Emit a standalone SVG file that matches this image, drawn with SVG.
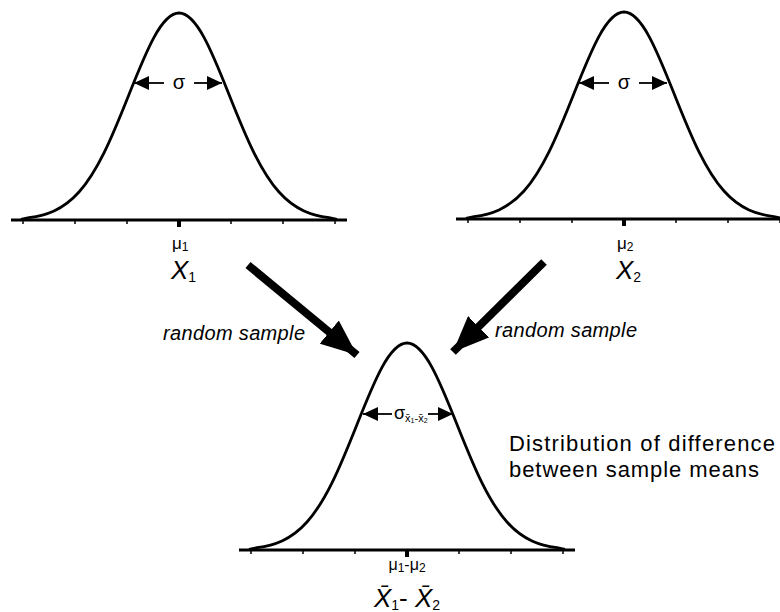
<svg xmlns="http://www.w3.org/2000/svg" xmlns:xlink="http://www.w3.org/1999/xlink" width="780" height="612" viewBox="0 0 780 612">
<style>
.curve{fill:none;stroke:#000;stroke-width:2.8}
.axis{stroke:#000;stroke-width:3}
.tick{stroke:#000;stroke-width:1.5}
.mtick{fill:#000}
.sig{stroke:#000;stroke-width:1.8}
.big{stroke:#000;stroke-width:8}
text{font-family:"Liberation Sans",Arial,sans-serif;fill:#000}
.it{font-style:italic}
</style>
<defs>
<path id="gauss" d="M -158,-0.6 L -150,-2.3 C -141.667,-3.449 -133.333,-5.313 -125,-9.1 C -116.667,-12.887 -108.333,-18.661 -100,-28 C -91.667,-37.339 -83.333,-50.395 -75,-67.2 C -66.667,-84.005 -58.333,-104.673 -50,-125.6 C -41.667,-146.527 -33.333,-167.475 -25,-182.7 C -16.667,-197.925 -8.333,-207 0,-207 C 8.333,-207 16.667,-197.925 25,-182.7 C 33.333,-167.475 41.667,-146.527 50,-125.6 C 58.333,-104.673 66.667,-84.005 75,-67.2 C 83.333,-50.395 91.667,-37.339 100,-28 C 108.333,-18.661 116.667,-12.887 125,-9.1 C 133.333,-5.313 141.667,-3.449 150,-2.3 L 158,-0.6"/>
<g id="axisgrp">
<line class="axis" x1="-168" y1="0" x2="168" y2="0"/>
<line class="tick" x1="-156" y1="0" x2="-156" y2="4"/>
<line class="tick" x1="-104" y1="0" x2="-104" y2="4"/>
<line class="tick" x1="-52" y1="0" x2="-52" y2="4"/>
<line class="tick" x1="52" y1="0" x2="52" y2="4"/>
<line class="tick" x1="104" y1="0" x2="104" y2="4"/>
<line class="tick" x1="156" y1="0" x2="156" y2="4"/>
<rect class="mtick" x="-2" y="0" width="4" height="7"/>
</g>
<marker id="sh" viewBox="0 0 15 14" refX="15" refY="7" markerWidth="15" markerHeight="14" markerUnits="userSpaceOnUse" orient="auto">
<path d="M0,0 L15,7 L0,14 Z" fill="#000"/>
</marker>
<marker id="bh" viewBox="0 0 36 30" refX="36" refY="15" markerWidth="36" markerHeight="30" markerUnits="userSpaceOnUse" orient="auto">
<path d="M0,0 L36,15 L0,30 Z" fill="#000"/>
</marker>
</defs>

<g id="pop1">
<use xlink:href="#gauss" class="curve" transform="translate(179,220)"/>
<use xlink:href="#axisgrp" transform="translate(179,220)"/>
<line class="sig" x1="164" y1="83" x2="134" y2="83" marker-end="url(#sh)"/>
<line class="sig" x1="194" y1="83" x2="222" y2="83" marker-end="url(#sh)"/>
<text x="179" y="89" font-size="20" text-anchor="middle">σ</text>
<text x="172" y="249" font-size="17">μ<tspan font-size="12" dy="2">1</tspan></text>
<text x="171" y="279" font-size="26" class="it">X<tspan font-size="14" dy="3" font-style="normal">1</tspan></text>
</g>

<g id="pop2">
<use xlink:href="#gauss" class="curve" transform="translate(624,219)"/>
<use xlink:href="#axisgrp" transform="translate(624,219)"/>
<line class="sig" x1="609" y1="83" x2="579" y2="83" marker-end="url(#sh)"/>
<line class="sig" x1="639" y1="83" x2="667" y2="83" marker-end="url(#sh)"/>
<text x="624" y="89" font-size="20" text-anchor="middle">σ</text>
<text x="617" y="249" font-size="17">μ<tspan font-size="12" dy="2">2</tspan></text>
<text x="616" y="279" font-size="26" class="it">X<tspan font-size="14" dy="3" font-style="normal">2</tspan></text>
</g>

<g id="diff">
<use xlink:href="#gauss" class="curve" transform="translate(407,550)"/>
<use xlink:href="#axisgrp" transform="translate(407,550)"/>
<line class="sig" x1="392" y1="414" x2="363" y2="414" marker-end="url(#sh)"/>
<line class="sig" x1="428" y1="414" x2="453" y2="414" marker-end="url(#sh)"/>
<text x="394" y="419" font-size="18">σ<tspan font-size="11" dy="3">x̄<tspan font-size="7" dy="1">1</tspan><tspan dy="-1">-x̄</tspan><tspan font-size="7" dy="1">2</tspan></tspan></text>
<text x="407" y="570" font-size="16" text-anchor="middle">μ<tspan font-size="12" dy="2">1</tspan><tspan dy="-2">-μ</tspan><tspan font-size="12" dy="2">2</tspan></text>
<text x="407" y="607" font-size="26" text-anchor="middle"><tspan class="it">X̄</tspan><tspan font-size="14" dy="3">1</tspan><tspan dy="-3">- </tspan><tspan class="it">X̄</tspan><tspan font-size="14" dy="3">2</tspan></text>
</g>

<g id="connectors">
<line class="big" x1="248" y1="265" x2="357" y2="355" marker-end="url(#bh)"/>
<line class="big" x1="544" y1="262" x2="453" y2="352" marker-end="url(#bh)"/>
</g>

<g id="labels">
<text x="163" y="340" font-size="20" class="it" textLength="142">random sample</text>
<text x="495" y="337" font-size="20" class="it" textLength="142">random sample</text>
<text x="509" y="451" font-size="22" textLength="266">Distribution of difference</text>
<text x="509" y="477" font-size="22" textLength="250">between sample means</text>
</g>
</svg>
